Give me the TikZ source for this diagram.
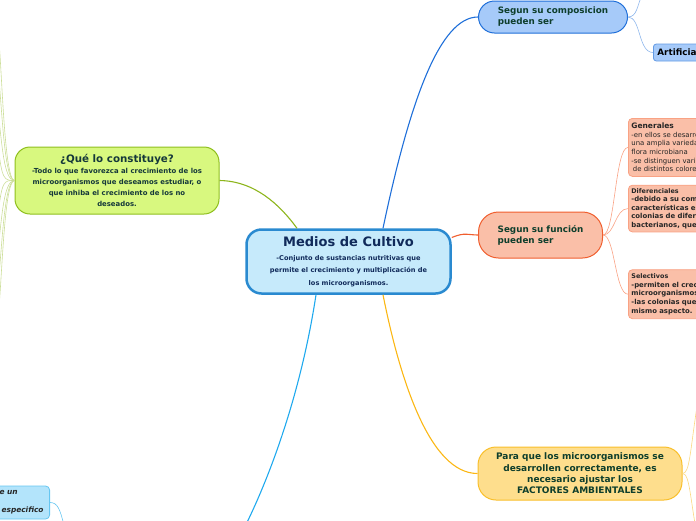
\documentclass[tikz,border=0pt]{standalone}
\usepackage{fontspec}
\setmainfont{DejaVu Sans}
\usetikzlibrary{positioning}
\definecolor{medfill}{HTML}{C6EAFB}
\definecolor{medline}{HTML}{2A8AD0}
\definecolor{medtext}{HTML}{102A5A}
\definecolor{qfill}{HTML}{D8F87F}
\definecolor{qline}{HTML}{8FBF1E}
\definecolor{qtext}{HTML}{15383A}
\definecolor{cfill}{HTML}{A6CAF9}
\definecolor{cline}{HTML}{1F6FD9}
\definecolor{ffill}{HTML}{FABFA8}
\definecolor{fline}{HTML}{F05E2E}
\definecolor{sline}{HTML}{F9A284}
\definecolor{pfill}{HTML}{FEDE8D}
\definecolor{pline}{HTML}{F9BF2A}
\definecolor{bfill}{HTML}{B3E4FB}
\definecolor{bline}{HTML}{66C6F1}
\definecolor{greentext}{HTML}{0E3E2C}
\colorlet{compwire}{cline}
\colorlet{funcwire}{fline}
\definecolor{parawire}{HTML}{FBB714}
\definecolor{botwire}{HTML}{1FA9EE}
\definecolor{qwire}{HTML}{8DB51C}

\begin{document}
\begin{tikzpicture}[x=1pt,y=-1pt,font=\bfseries]
  \tikzstyle{centre}=[draw=medline,fill=medfill,line width=2.5pt,rounded corners=15pt,minimum width=204pt,minimum height=64pt,align=center,text=medtext,inner sep=0pt]
  \tikzstyle{topic}=[draw,line width=1pt,rounded corners=15pt,align=center,inner sep=0pt]
  \tikzstyle{pill}=[draw,line width=1pt,rounded corners=16pt,align=left,inner sep=0pt,text=greentext,font=\bfseries\fontsize{8.8}{11}\selectfont]
  \tikzstyle{leaf}=[draw=sline,fill=ffill,line width=0.8pt,rounded corners=4pt,anchor=north west,align=left,text width=100pt,inner sep=3pt,text=black!85]
  \tikzstyle{wire}=[line width=1.1pt]
  \tikzstyle{twig}=[line width=0.6pt]
  \useasboundingbox (0,0) rectangle (696,520);
  \clip (0,0) rectangle (696,520);

  \node[centre,font=\bfseries\fontsize{6.6}{12.5}\selectfont] (medios) at (348.5,261.5)
    {{\fontsize{13}{15}\selectfont Medios de Cultivo}\\[1.5pt]
     -Conjunto de sustancias nutritivas que\\permite el crecimiento y multiplicación de\\los microorganismos.};
  \node[topic,draw=qline,fill=qfill,text=qtext,minimum width=204pt,minimum height=67pt,font=\bfseries\fontsize{6.9}{11.3}\selectfont] (quest) at (117,180.5)
    {{\fontsize{10.3}{12}\selectfont ¿Qué lo constituye?}\\[-0.5pt]
     -Todo lo que favorezca al crecimiento de los\\microorganismos que deseamos estudiar, o\\que inhiba el crecimiento de los no\\deseados.};
  \node[pill,draw=cline,fill=cfill,minimum width=149pt,minimum height=32pt,anchor=west] (comp) at (478,17)
    {Segun su composicion\\pueden ser};
  \node[draw=cline!70,fill=cfill,line width=0.8pt,rounded corners=3pt,anchor=west,minimum height=17pt,minimum width=60pt,inner xsep=4pt,align=left,text width=52pt,font=\bfseries\fontsize{8.8}{9}\selectfont] (art) at (653,52.5)
    {Artificia};
  \node[pill,draw=fline,fill=ffill,minimum width=124pt,minimum height=46pt,rounded corners=20pt,anchor=west] (func) at (478,235)
    {Segun su función\\pueden ser};
  \node[leaf,minimum height=58pt,font=\mdseries\fontsize{6.9}{8.6}\selectfont] (gen) at (628,118)
    {{\bfseries\fontsize{7.5}{9}\selectfont Generales}\\-en ellos se desarro\\una amplia varieda\\flora microbiana\\-se distinguen vari\\\hspace*{1.5pt}de distintos colore};
  \node[leaf,minimum height=43pt,font=\bfseries\fontsize{6.9}{8.6}\selectfont,below=8pt of gen.south west,anchor=north west] (dif)
    {{\fontsize{6.4}{9}\selectfont Diferenciales}\\-debido a su com\\características es\\colonias de difere\\bacterianos, que};
  \node[leaf,minimum height=49pt,font=\bfseries\fontsize{6.9}{8.6}\selectfont,below=37pt of dif.south west,anchor=north west] (sel)
    {{\fontsize{6.4}{9}\selectfont Selectivos}\\-permiten el crec\\microorganismos\\-las colonias que\\mismo aspecto.};
  \node[topic,draw=pline,fill=pfill,text=greentext,minimum width=204pt,minimum height=53pt,rounded corners=18pt,font=\bfseries\fontsize{9}{11.4}\selectfont] (para) at (580,473.5)
    {Para que los microorganismos se\\desarrollen correctamente, es\\necesario ajustar los\\FACTORES AMBIENTALES};
  \node[draw=bline,fill=bfill,line width=0.8pt,rounded corners=4pt,anchor=east,minimum height=33pt,text width=74pt,inner xsep=3pt,align=left,text=black!85,font=\bfseries\itshape\fontsize{7.4}{9}\selectfont] (spec) at (50,502.5)
    {\hspace*{27pt}e un\\[9pt]\hspace*{29pt}especifico};
  \coordinate (offbottom) at (238,540);

  % main branches out of the centre
  \draw[wire,qwire] ([xshift=-51.5pt]medios.north) .. controls (280,205) and (255,181) .. (quest.east);
  \draw[wire,compwire] ([xshift=34.5pt]medios.north) .. controls (410,100) and (440,17) .. (comp.west);
  \draw[wire,funcwire] ([yshift=24pt]medios.east) .. controls (465,232) and (468,235) .. (func.west);
  \draw[wire,parawire] ([xshift=34.5pt]medios.south) .. controls (400,380) and (430,473.5) .. (para.west);
  \draw[wire,botwire] ([xshift=-32.5pt]medios.south) .. controls (300,400) and (265,490) .. (offbottom);

  % thin twigs to the children
  \foreach \ey in {30,70,110,145}
    \draw[twig,qwire!45] (quest.west) .. controls (4,180.5) and (2,\ey+35) .. (-2,\ey);
  \foreach \ey in {215,250,285,318}
    \draw[twig,qwire!45] (quest.west) .. controls (4,180.5) and (2,\ey-35) .. (-2,\ey);
  \draw[twig,cline!50] (comp.east) .. controls (637,17) and (637,6) .. (642,-5);
  \draw[twig,cline!50] (comp.east) .. controls (641,17) and (638,52.5) .. (art.west);
  \foreach \leafname in {gen,dif,sel}
    \draw[twig,sline] (func.east) .. controls (615,235) and (615,0|-\leafname.west) .. (\leafname.west);
  \draw[twig,pline!60] (para.east) .. controls (690,473.5) and (690,450) .. (698,400);
  \draw[twig,pline!60] (para.east) .. controls (690,473.5) and (690,500) .. (698,540);
  \draw[twig,bline] (spec.east) .. controls (58,502.5) and (60,510) .. (64,525);
\end{tikzpicture}
\end{document}
